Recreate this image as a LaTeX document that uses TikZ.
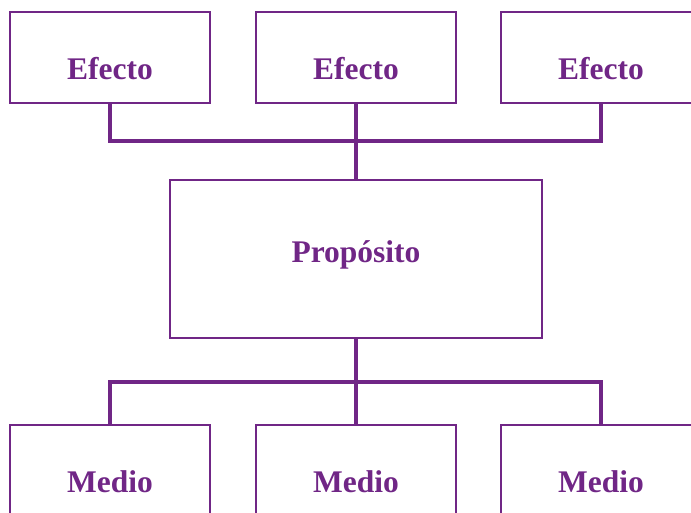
\documentclass[tikz,border=0pt]{standalone}
\usepackage{fontspec}
\setmainfont{Liberation Serif}
\definecolor{purp}{RGB}{112,38,134}
\begin{document}
\begin{tikzpicture}[x=1pt,y=-1pt,
  box/.style={draw=purp,line width=2.4pt,minimum width=200pt,minimum height=91pt,inner sep=0pt},
  bigbox/.style={draw=purp,line width=2.4pt,minimum width=372pt,minimum height=158pt,inner sep=0pt},
  conn/.style={draw=purp,line width=3.4pt},
  lbl/.style={text=purp,font=\fontsize{31.5}{36}\selectfont\bfseries,anchor=base,inner sep=0pt}]
\clip (0,0) rectangle (691,512);
\fill[white] (0,0) rectangle (691,512);
% boxes
\node[box] (e1) at (110,57.5) {};
\node[box] (e2) at (356,57.5) {};
\node[box] (e3) at (601,57.5) {};
\node[bigbox] (p) at (356,259) {};
\node[box] (m1) at (110,470.5) {};
\node[box] (m2) at (356,470.5) {};
\node[box] (m3) at (601,470.5) {};
% labels
\node[lbl] (te1) at (110,79) {Efecto};
\node[lbl] (te2) at (356,79) {Efecto};
\node[lbl] (te3) at (601,79) {Efecto};
\node[lbl] (tp) at (356,262) {Propósito};
\node[lbl] (tm1) at (110,492) {Medio};
\node[lbl] (tm2) at (356,492) {Medio};
\node[lbl] (tm3) at (601,492) {Medio};
% connectors
\coordinate (tbar) at (356,141);
\coordinate (bbar) at (356,382);
\draw[conn] (e1.south) |- (tbar) -| (e3.south);
\draw[conn] (e2.south) -- (p.north);
\draw[conn] (m1.north) |- (bbar) -| (m3.north);
\draw[conn] (p.south) -- (m2.north);
\end{tikzpicture}
\end{document}
